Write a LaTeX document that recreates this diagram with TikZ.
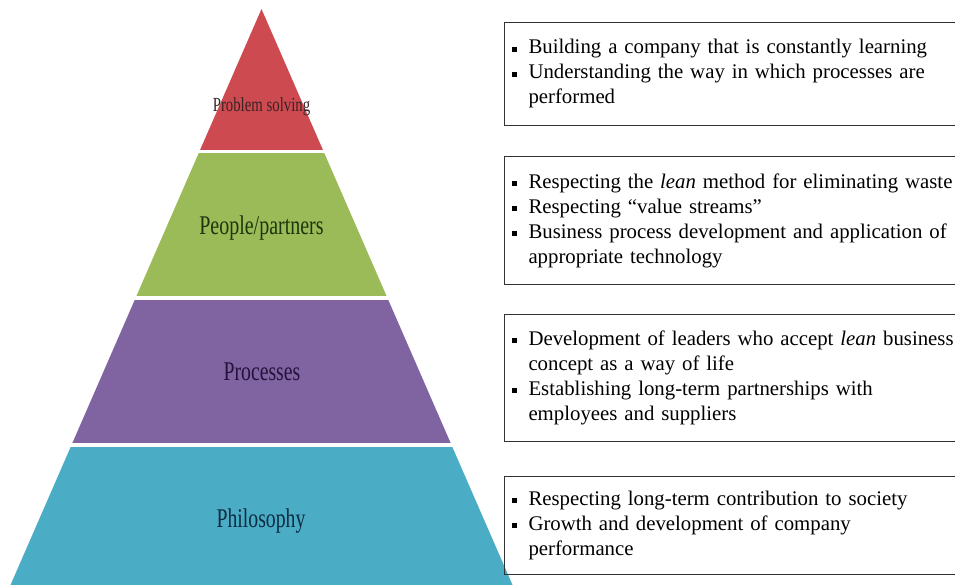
\documentclass[tikz,border=0pt]{standalone}
\usepackage{fontspec}
\setmainfont{Liberation Serif}
\usetikzlibrary{positioning}

\definecolor{tierred}{HTML}{CD4A50}
\definecolor{tiergreen}{HTML}{9BBB59}
\definecolor{tierpurple}{HTML}{8064A2}
\definecolor{tierblue}{HTML}{4BACC6}
\definecolor{redtext}{HTML}{3A2224}
\definecolor{greentext}{HTML}{1C360C}
\definecolor{purpletext}{HTML}{24123C}
\definecolor{bluetext}{HTML}{0C2C40}

% square bullet and the indent of a wrapped line
\newcommand\sqitem{\makebox[17pt][l]{\rule[2.3pt]{5pt}{5pt}}}
\newcommand\sqcont{\hspace*{17pt}}

\begin{document}
\begin{tikzpicture}[x=1pt, y=-1pt, node distance=30pt,
        tier/.style={anchor=base, font=\fontsize{27}{30}\selectfont},
        infobox/.style={draw=black!80, line width=1pt, text width=455pt, align=left,
            inner xsep=7pt, inner ysep=0pt, font=\fontsize{20.8}{25}\selectfont}]
        \useasboundingbox (0,0) rectangle (955,585);

        % pyramid: colour bands cut to one triangle
        \begin{scope}
            \clip (261.5,9) -- (512.5,585) -- (10.5,585) -- cycle;
            \fill[tierred] (0,0) rectangle (955,150);
            \fill[tiergreen] (0,153.5) rectangle (955,295.5);
            \fill[tierpurple] (0,300) rectangle (955,442.5);
            \fill[tierblue] (0,447) rectangle (955,600);
        \end{scope}

        \node[tier, font=\fontsize{20}{22}\selectfont, text=redtext] (solving) at (261.5,112) {\scalebox{0.74}[1]{Problem solving}};
        \node[tier, text=greentext] (people) at (261.5,235) {\scalebox{0.74}[1]{People/partners}};
        \node[tier, text=purpletext] (processes) at (262,380) {\scalebox{0.73}[1]{Processes}};
        \node[tier, text=bluetext] (philosophy) at (261,527) {\scalebox{0.73}[1]{Philosophy}};

        % boxes beside the pyramid
        \node[infobox, minimum height=103pt, anchor=north west] (learning) at (504,22) {
            \sqitem Building a company that is constantly learning\\
            \sqitem Understanding the way in which processes are\\
            \sqcont performed};
        \node[infobox, minimum height=128pt, below=30pt of learning] (waste) {
            \sqitem Respecting the \textit{lean} method for eliminating waste\\
            \sqitem Respecting “value streams”\\
            \sqitem Business process development and application of\\
            \sqcont appropriate technology};
        \node[infobox, minimum height=127pt, below=29pt of waste] (leaders) {
            \sqitem Development of leaders who accept \textit{lean} business\\
            \sqcont concept as a way of life\\
            \sqitem Establishing long-term partnerships with\\
            \sqcont employees and suppliers};
        \node[infobox, minimum height=98pt, below=34pt of leaders] (society) {
            \sqitem Respecting long-term contribution to society\\
            \sqitem Growth and development of company\\
            \sqcont performance};
    \end{tikzpicture}
\end{document}
